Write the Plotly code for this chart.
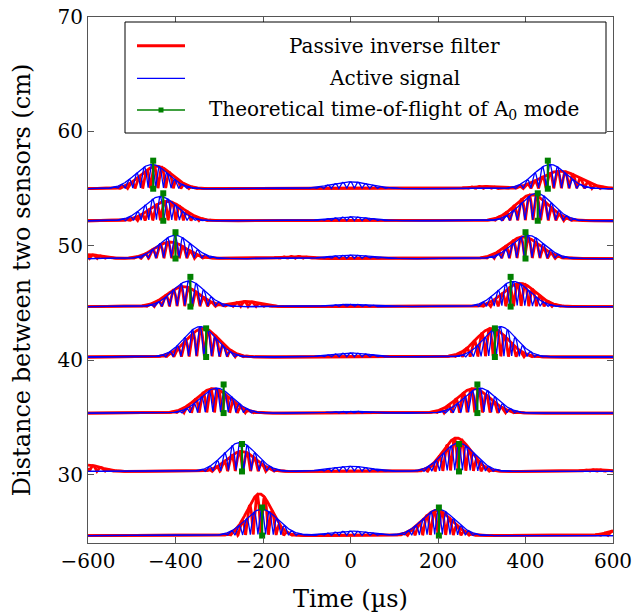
import numpy as np
import plotly.graph_objects as go

# ---------------- data ----------------
distances = [24.7, 30.3, 35.4, 40.3, 44.7, 48.9, 52.2, 55.0]          # cm (baselines)
tof = [202, 248, 290, 330, 366, 400, 428, 451]                          # µs theoretical A0 ToF
tof_height = [2.45, 2.4, 2.5, 2.5, 2.6, 2.3, 2.4, 2.45]

blue_left_t = [-203, -253, -306, -344, -370, -401, -435, -454]
blue_left_amp = [2.3, 2.53, 2.18, 2.65, 2.24, 2.03, 2.12, 2.12]
blue_right_t = [201, 247, 296, 342, 372, 406, 425, 456]
blue_right_amp = [2.3, 2.48, 2.18, 2.65, 2.2, 2.03, 2.4, 2.12]
blue_mid_amp = [0.4, 0.45, 0.15, 0.35, 0.2, 0.3, 0.35, 0.6]

red_left_t = [-208, -249, -314, -337, -382, -412, -420, -443]
red_left_amp = [3.64, 1.75, 2.13, 2.5, 1.75, 1.45, 1.7, 1.97]
red_left_w = [28, 33, 38, 37, 37, 36, 38, 36]
red_right_t = [197, 243, 281, 323, 387, 395, 414, 479]
red_right_amp = [2.2, 2.92, 2.13, 2.5, 2.04, 1.89, 2.27, 1.54]
red_right_w = [34, 32, 38, 37, 37, 38, 38, 45]

# small residual bumps of the passive inverse filter: (trace index, time, amplitude)
red_extra_idx = [7, 5, 5, 4, 1, 0, 1]
red_extra_t = [300, -600, -130, -237, -600, 620, 560]
red_extra_amp = [0.2, 0.35, 0.2, 0.45, 0.55, 0.5, 0.15]

x_ticks = [-600, -400, -200, 0, 200, 400, 600]
y_ticks = [30, 40, 50, 60, 70]

# ---------------- wave-packet construction ----------------
t = np.arange(-600, 600.01, 0.5)
PERIOD = 17.5
BLUE_W = 37.0
MID_W = 45.0


def packets_to_curves(packets, phase):
    env = np.zeros_like(t)
    osc = np.zeros_like(t)
    for c, a, w in packets:
        g = a * np.exp(-0.5 * ((t - c) / w) ** 2)
        env += g
        osc += g * np.abs(np.cos(np.pi * (t - c) / PERIOD + phase))
    return env, osc


def series_xy(all_packets, phase):
    xs, ys = [], []
    for d, packets in zip(distances, all_packets):
        env, osc = packets_to_curves(packets, phase)
        xs += list(t) + [None] + list(t) + [None]
        ys += list(d + osc) + [None] + list(d + env) + [None]
    return xs, ys


blue_packets = []
red_packets = []
for i in range(len(distances)):
    blue_packets.append([
        (blue_left_t[i], blue_left_amp[i], BLUE_W),
        (blue_right_t[i], blue_right_amp[i], BLUE_W),
        (0, blue_mid_amp[i], MID_W),
    ])
    rp = [
        (red_left_t[i], red_left_amp[i], red_left_w[i]),
        (red_right_t[i], red_right_amp[i], red_right_w[i]),
    ]
    for k, idx in enumerate(red_extra_idx):
        if idx == i:
            rp.append((red_extra_t[k], red_extra_amp[k], 30))
    red_packets.append(rp)

RED = "rgb(255,0,0)"
BLUE = "rgb(0,0,255)"
GREEN = "rgb(0,128,0)"

fig = go.Figure()

rx, ry = series_xy(red_packets, 1.0)
fig.add_trace(go.Scatter(x=rx, y=ry, mode="lines", line=dict(color=RED, width=2.8),
                         name="Passive inverse filter", showlegend=False, hoverinfo="skip"))
bx, by = series_xy(blue_packets, 0.0)
fig.add_trace(go.Scatter(x=bx, y=by, mode="lines", line=dict(color=BLUE, width=1.3),
                         name="Active signal", showlegend=False, hoverinfo="skip"))

gx, gy = [], []
for d, tt, h in zip(distances, tof, tof_height):
    for s in (-1, 1):
        gx += [s * tt, s * tt, None]
        gy += [d, d + h, None]
fig.add_trace(go.Scatter(x=gx, y=gy, mode="lines+markers",
                         line=dict(color=GREEN, width=2.2),
                         marker=dict(color=GREEN, size=6, symbol="square"),
                         name="Theoretical time-of-flight of A0 mode",
                         showlegend=False, hoverinfo="skip"))

FONT = "DejaVu Serif"
AX = "#555555"

fig.update_layout(
    width=634, height=614,
    margin=dict(l=88, r=21, t=17, b=71),
    plot_bgcolor="white", paper_bgcolor="white",
    font=dict(family=FONT, size=20, color="black"),
    xaxis=dict(range=[-600, 600], tickvals=x_ticks, ticks="inside", ticklen=6,
               tickcolor=AX, showline=True, linecolor=AX, linewidth=1.2, mirror="ticks",
               showgrid=False, zeroline=False, automargin=False,
               title=dict(text="Time (µs)", standoff=18)),
    yaxis=dict(range=[24.05, 70], tickvals=y_ticks, ticks="inside", ticklen=6,
               tickcolor=AX, showline=True, linecolor=AX, linewidth=1.2, mirror="ticks",
               showgrid=False, zeroline=False, automargin=False,
               title=dict(text="Distance between two sensors (cm)", standoff=20)),
)

# ---------------- manual legend (centered text like pgfplots) ----------------
def px(xp):
    return (xp - 88) / 525.0


def py(yp):
    return (543 - yp) / 526.0


fig.add_shape(type="rect", xref="paper", yref="paper", x0=px(125), x1=px(606),
              y0=py(133), y1=py(22), line=dict(color="black", width=1), fillcolor="white",
              layer="above")
rows = [(45.7, RED, 3, "Passive inverse filter"),
        (78.3, BLUE, 1.3, "Active signal"),
        (110.0, GREEN, 1.5, "Theoretical time-of-flight of A<sub>0</sub> mode")]
for yy, col, w, txt in rows:
    fig.add_shape(type="line", xref="paper", yref="paper", x0=px(137), x1=px(185),
                  y0=py(yy), y1=py(yy), line=dict(color=col, width=w), layer="above")
    fig.add_annotation(x=px(394), y=py(yy), xref="paper", yref="paper", text=txt,
                       showarrow=False, xanchor="center", yanchor="middle",
                       font=dict(family=FONT, size=20, color="black"))
fig.add_shape(type="rect", xref="paper", yref="paper", x0=px(158.5), x1=px(163.5),
              y0=py(112.5), y1=py(107.5), line=dict(color=GREEN, width=0),
              fillcolor=GREEN, layer="above")

fig.write_html("out.html", config={"displayModeBar": False},
               post_script="document.body.style.margin='0px';")
